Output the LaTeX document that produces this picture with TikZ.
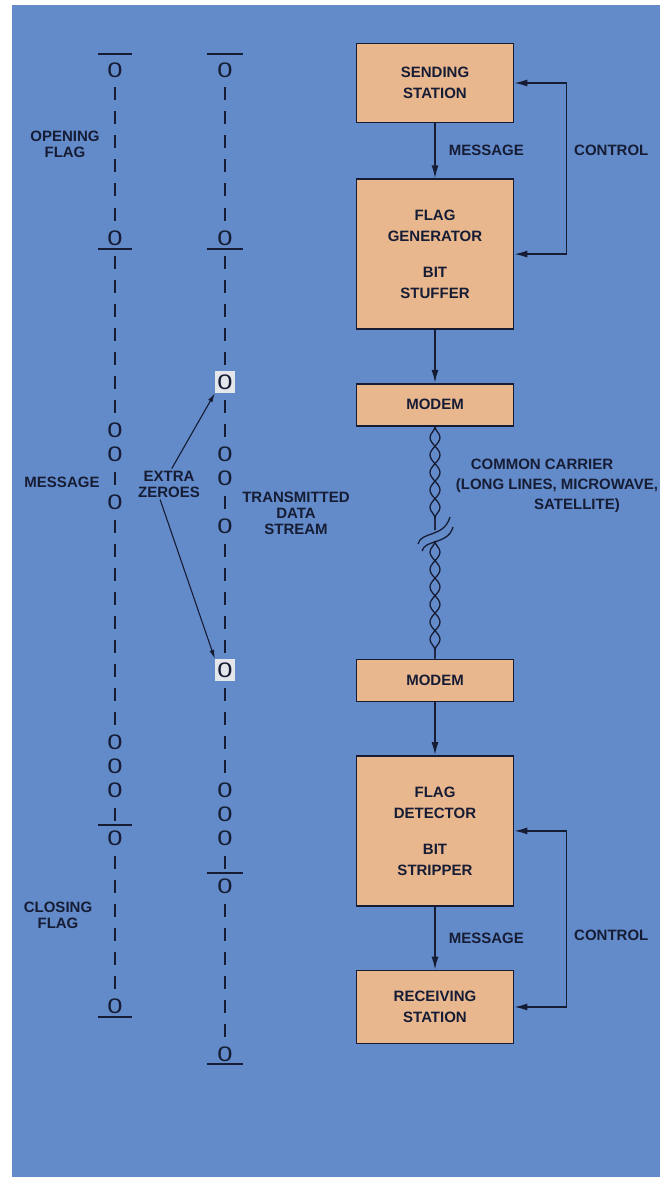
\documentclass[tikz,border=0pt]{standalone}
\usepackage{fontspec}
\setmainfont{Liberation Sans}
\newfontfamily\bitfont[FakeStretch=1.3]{Liberation Sans}
\usepackage{xcolor}
\usepackage{tikz}
\usetikzlibrary{positioning, arrows.meta, decorations.pathmorphing}
\definecolor{panelblue}{RGB}{99,139,202}
\definecolor{boxpeach}{RGB}{233,183,142}
\definecolor{ink}{RGB}{22,28,52}
\definecolor{hilite}{RGB}{228,230,236}
\tikzset{
  block/.style={rectangle, draw=ink, line width=1.6pt, fill=boxpeach, text=ink, align=center, minimum width=157pt, font=\bfseries\fontsize{15}{21}\selectfont},
  station/.style={block, minimum height=79pt},
  unit/.style={block, minimum height=150pt},
  modem/.style={block, minimum height=42pt},
  lbl/.style={text=ink, align=center, inner sep=2pt, font=\bfseries\fontsize{15}{16}\selectfont},
  arrow/.style={draw=ink, line width=1.6pt, -{Latex[length=13pt, width=7pt]}},
  twoway/.style={draw=ink, line width=1.6pt, {Latex[length=13pt, width=7pt]}-{Latex[length=13pt, width=7pt]}},
  pointer/.style={draw=ink, line width=1.1pt, -{Latex[length=9pt, width=5pt]}},
  zero/.style={text=ink, inner sep=0pt, font=\bitfont\fontsize{21}{21}\selectfont},
  stuffed/.style={zero, fill=hilite, minimum width=20pt, minimum height=22pt},
  one/.style={draw=ink, line width=1.8pt},
  bar/.style={draw=ink, line width=1.8pt},
  wire/.style={draw=ink, line width=1.3pt, decorate, decoration={snake, amplitude=5pt, segment length=35pt}},
}
% bit column: name prefix, x, y of first bit, bits (0 = zero, 1 = one, 2 = stuffed zero)
\newcommand{\bitcolumn}[4]{%
  \foreach \b [count=\i from 0] in {#4} {
    \ifcase\b
      \node[zero] (#1\i) at (#2, #3+24*\i) {0};
    \or
      \draw[one] (#2, #3+24*\i-6.5) -- (#2, #3+24*\i+6.5);
    \or
      \node[stuffed] (#1\i) at (#2, #3+24*\i) {0};
    \fi
  }}

\begin{document}
\begin{tikzpicture}[x=1pt, y=-1pt, node distance=55pt]
        % Panel
        \useasboundingbox (0,0) rectangle (668,1177);
        \fill[panelblue] (12,5) rectangle (660,1177);

        % Message bits
        \bitcolumn{m}{115}{70}{0,1,1,1,1,1,1,0, 1,1,1,1,1,1,1,0,0,1,0,1,1,1,1,1,1,1,1,1,0,0,0,1, 0,1,1,1,1,1,1,0}

        % Transmitted bits
        \bitcolumn{t}{225}{70}{0,1,1,1,1,1,1,0, 1,1,1,1,1,2,1,1,0,0,1,0,1,1,1,1,1,2,1,1,1,1,0,0,0,1, 0,1,1,1,1,1,1,0}

        % Flag bars
        \foreach \y in {54, 249, 825, 1017} \draw[bar] (98,\y) -- (132,\y);
        \foreach \y in {54, 249, 873, 1064} \draw[bar] (207,\y) -- (243,\y);

        % Stream labels
        \node[lbl] (openflag) at (65,144) {OPENING\\FLAG};
        \node[lbl] (msgleft) at (62,482) {MESSAGE};
        \node[lbl] (closeflag) at (58,915) {CLOSING\\FLAG};
        \node[lbl] (extra) at (169,484) {EXTRA\\ZEROES};
        \node[lbl] (stream) at (296,513) {TRANSMITTED\\DATA\\STREAM};
        \draw[pointer] (extra.80) -- (t13.south west);
        \draw[pointer] (extra.240) -- (t25.north west);

        % Sending side
        \node[station] (send) at (435,83) {SENDING\\STATION};
        \node[unit, below=of send] (flaggen) {FLAG\\GENERATOR\\[15pt]BIT\\STUFFER};
        \node[modem, below=53pt of flaggen] (modemtx) {MODEM};

        % Receiving side
        \node[modem, below=232pt of modemtx] (modemrx) {MODEM};
        \node[unit, below=53pt of modemrx] (flagdet) {FLAG\\DETECTOR\\[15pt]BIT\\STRIPPER};
        \node[station, minimum height=73pt, below=63pt of flagdet] (recv) {RECEIVING\\STATION};

        % Connections
        \draw[arrow] (send) -- node[lbl, right=11pt] (msgtx) {MESSAGE} (flaggen);
        \draw[arrow] (flaggen) -- (modemtx);
        \draw[twoway] (flaggen.east) -- ++(52,0) |- (send.east);
        \node[lbl, anchor=west] (ctltx) at (572,150) {CONTROL};

        \draw[arrow] (modemrx) -- (flagdet);
        \draw[arrow] (flagdet) -- node[lbl, right=11pt] (msgrx) {MESSAGE} (recv);
        \draw[twoway] (recv.east) -- ++(52,0) |- (flagdet.east);
        \node[lbl, anchor=west] (ctlrx) at (572,935) {CONTROL};

        % Common carrier
        \coordinate (breaktop) at (435,530);
        \coordinate (breakbot) at (435,541);
        \draw[wire] (modemtx.south) -- (breaktop);
        \draw[wire, decoration={mirror}] (modemtx.south) -- (breaktop);
        \draw[wire] (breakbot) -- (modemrx.north);
        \draw[wire, decoration={mirror}] (breakbot) -- (modemrx.north);
        \draw[ink, line width=1.3pt] (418,544) .. controls (421,531) and (444,538) .. (450,517);
        \draw[ink, line width=1.3pt] (422,551) .. controls (425,539) and (448,545) .. (453,527);
        \node[lbl, font=\bfseries\fontsize{15}{20}\selectfont] (carrier) at (557,486) {\hspace*{-30pt}COMMON CARRIER\\(LONG LINES, MICROWAVE,\\\hspace*{40pt}SATELLITE)};
        \end{tikzpicture}
\end{document}
